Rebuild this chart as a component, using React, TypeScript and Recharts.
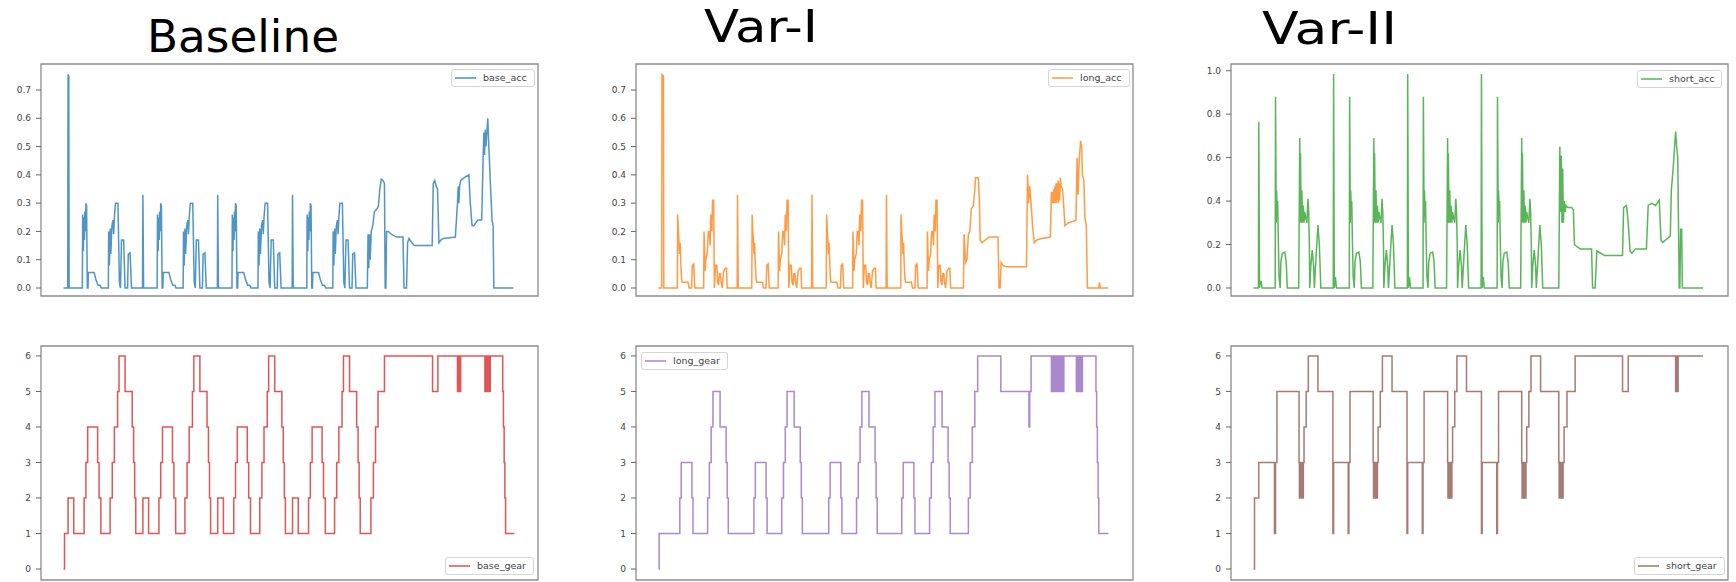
import React from 'react'
import { LineChart, Line, XAxis, YAxis, ReferenceArea, Legend } from 'recharts'

type Pt = [number, number]

// sample index on x (tick labels are hidden in the source figure)
const xTicks = [0, 215, 430, 645, 860, 1075, 1290]
const xDomain: [number, number] = [-63, 1332]
const accTicks = [0, 0.1, 0.2, 0.3, 0.4, 0.5, 0.6, 0.7]
const shortAccTicks = [0, 0.2, 0.4, 0.6, 0.8, 1.0]
const gearTicks = [0, 1, 2, 3, 4, 5, 6]
const titles = ['Baseline', 'Var-I', 'Var-II']

const baseAcc: Pt[] = [
  [0, 0], [12, 0], [13, 0.755], [15, 0.75], [16, 0], [53, 0],
  [54, 0.26], [56, 0.13], [57, 0.25], [59, 0.17], [60, 0.27], [62, 0.2], [63, 0.3], [65, 0.29], [67, 0], [69, 0], [70, 0.055], [86, 0.055], [88, 0.045], [91, 0.03], [94, 0.02], [97, 0.01], [103, 0.01], [106, 0], [126, 0], [127, 0.2], [129, 0.08], [131, 0.21], [133, 0.12], [136, 0.22], [139, 0.24], [141, 0.19], [143, 0.25], [146, 0.3], [153, 0.3], [157, 0.02], [160, 0], [163, 0.17], [169, 0.17], [173, 0], [180, 0], [182, 0.12], [187, 0.125], [191, 0], [222, 0], [223, 0.33], [225, 0],
  [263, 0], [264, 0.26], [266, 0.13], [267, 0.25], [269, 0.17], [270, 0.27], [272, 0.2], [273, 0.3], [275, 0.29], [277, 0], [279, 0], [280, 0.055], [296, 0.055], [298, 0.045], [301, 0.03], [304, 0.02], [307, 0.01], [313, 0.01], [316, 0], [336, 0], [337, 0.2], [339, 0.08], [341, 0.21], [343, 0.12], [346, 0.22], [349, 0.24], [351, 0.19], [353, 0.25], [356, 0.3], [363, 0.3], [367, 0.02], [370, 0], [373, 0.17], [379, 0.17], [383, 0], [390, 0], [392, 0.12], [397, 0.125], [401, 0], [432, 0], [433, 0.33], [435, 0],
  [473, 0], [474, 0.26], [476, 0.13], [477, 0.25], [479, 0.17], [480, 0.27], [482, 0.2], [483, 0.3], [485, 0.29], [487, 0], [489, 0], [490, 0.055], [506, 0.055], [508, 0.045], [511, 0.03], [514, 0.02], [517, 0.01], [523, 0.01], [526, 0], [546, 0], [547, 0.2], [549, 0.08], [551, 0.21], [553, 0.12], [556, 0.22], [559, 0.24], [561, 0.19], [563, 0.25], [566, 0.3], [573, 0.3], [577, 0.02], [580, 0], [583, 0.17], [589, 0.17], [593, 0], [600, 0], [602, 0.12], [607, 0.125], [611, 0], [642, 0], [643, 0.33], [645, 0],
  [683, 0], [684, 0.26], [686, 0.13], [687, 0.25], [689, 0.17], [690, 0.27], [692, 0.2], [693, 0.3], [695, 0.29], [697, 0], [699, 0], [700, 0.055], [716, 0.055], [718, 0.045], [721, 0.03], [724, 0.02], [727, 0.01], [733, 0.01], [736, 0], [756, 0], [757, 0.2], [759, 0.08], [761, 0.21], [763, 0.12], [766, 0.22], [769, 0.24], [771, 0.19], [773, 0.25], [776, 0.3], [783, 0.3], [787, 0.02], [790, 0], [793, 0.17], [799, 0.17], [803, 0], [810, 0], [812, 0.12], [817, 0.125], [821, 0],
  [853, 0], [855, 0.19], [857, 0.07], [859, 0.19], [861, 0.1], [864, 0.2], [868, 0.22], [873, 0.27], [880, 0.28], [884, 0.29], [888, 0.35], [892, 0.385], [897, 0.38], [901, 0.37], [903, 0], [905, 0], [907, 0.2], [912, 0.2], [920, 0.19], [935, 0.18], [953, 0.18], [956, 0], [963, 0], [966, 0.16], [970, 0.175], [978, 0.16], [985, 0.15], [1035, 0.15], [1038, 0.37], [1042, 0.38], [1046, 0.36], [1050, 0.35], [1054, 0.16], [1060, 0.17], [1066, 0.175], [1100, 0.18], [1106, 0.3], [1108, 0.36], [1110, 0.3], [1112, 0.36], [1115, 0.38], [1125, 0.39], [1138, 0.4], [1142, 0.3], [1147, 0.22], [1152, 0.22], [1163, 0.24], [1174, 0.24], [1178, 0.46], [1180, 0.55], [1182, 0.47], [1184, 0.56], [1186, 0.5], [1191, 0.6], [1194, 0.5], [1198, 0.38], [1203, 0.24], [1206, 0.22], [1208, 0], [1263, 0],
]

const longAcc: Pt[] = [
  [0, 0], [9, 0], [10, 0.755], [14, 0.75], [15, 0], [53, 0],
  [54, 0.26], [56, 0.2], [58, 0.16], [59, 0.12], [61, 0.16], [63, 0.08], [65, 0.03], [67, 0.02], [83, 0.02], [86, 0], [93, 0], [95, 0.08], [99, 0.085], [102, 0], [127, 0], [128, 0.2], [131, 0.06], [133, 0.1], [137, 0.12], [140, 0.2], [143, 0.2], [145, 0.15], [147, 0.26], [150, 0.2], [152, 0.31], [155, 0.31], [157, 0], [160, 0.08], [164, 0.08], [166, 0.02], [169, 0.01], [171, 0.05], [174, 0.05], [176, 0.02], [179, 0], [183, 0.06], [188, 0.07], [191, 0.07], [193, 0], [221, 0], [222, 0.33], [224, 0],
  [262, 0], [263, 0.26], [265, 0.2], [267, 0.16], [268, 0.12], [270, 0.16], [272, 0.08], [274, 0.03], [276, 0.02], [292, 0.02], [295, 0], [302, 0], [304, 0.08], [308, 0.085], [311, 0], [336, 0], [337, 0.2], [340, 0.06], [342, 0.1], [346, 0.12], [349, 0.2], [352, 0.2], [354, 0.15], [356, 0.26], [359, 0.2], [361, 0.31], [364, 0.31], [366, 0], [369, 0.08], [373, 0.08], [375, 0.02], [378, 0.01], [380, 0.05], [383, 0.05], [385, 0.02], [388, 0], [392, 0.06], [397, 0.07], [400, 0.07], [402, 0], [430, 0], [431, 0.33], [433, 0],
  [471, 0], [472, 0.26], [474, 0.2], [476, 0.16], [477, 0.12], [479, 0.16], [481, 0.08], [483, 0.03], [485, 0.02], [501, 0.02], [504, 0], [511, 0], [513, 0.08], [517, 0.085], [520, 0], [545, 0], [546, 0.2], [549, 0.06], [551, 0.1], [555, 0.12], [558, 0.2], [561, 0.2], [563, 0.15], [565, 0.26], [568, 0.2], [570, 0.31], [573, 0.31], [575, 0], [578, 0.08], [582, 0.08], [584, 0.02], [587, 0.01], [589, 0.05], [592, 0.05], [594, 0.02], [597, 0], [601, 0.06], [606, 0.07], [609, 0.07], [611, 0], [639, 0], [640, 0.33], [642, 0],
  [680, 0], [681, 0.26], [683, 0.2], [685, 0.16], [686, 0.12], [688, 0.16], [690, 0.08], [692, 0.03], [694, 0.02], [710, 0.02], [713, 0], [720, 0], [722, 0.08], [726, 0.085], [729, 0], [754, 0], [755, 0.2], [758, 0.06], [760, 0.1], [764, 0.12], [767, 0.2], [770, 0.2], [772, 0.15], [774, 0.26], [777, 0.2], [779, 0.31], [782, 0.31], [784, 0], [787, 0.08], [791, 0.08], [793, 0.02], [796, 0.01], [798, 0.05], [801, 0.05], [803, 0.02], [806, 0], [810, 0.06], [815, 0.07], [818, 0.07], [820, 0],
  [856, 0], [858, 0.19], [862, 0.09], [866, 0.1], [870, 0.19], [874, 0.2], [878, 0.28], [884, 0.29], [888, 0.35], [890, 0.39], [898, 0.39], [901, 0.3], [903, 0.17], [908, 0.16], [918, 0.17], [928, 0.18], [953, 0.18], [956, 0], [959, 0], [962, 0.09], [967, 0.08], [975, 0.075], [1033, 0.075], [1036, 0.4], [1039, 0.3], [1042, 0.36], [1046, 0.3], [1050, 0.22], [1055, 0.16], [1062, 0.17], [1075, 0.175], [1100, 0.18], [1103, 0.34], [1105, 0.3], [1107, 0.34], [1108, 0.3], [1110, 0.35], [1111, 0.3], [1113, 0.36], [1114, 0.3], [1116, 0.37], [1117, 0.3], [1119, 0.37], [1120, 0.31], [1122, 0.38], [1123, 0.3], [1125, 0.37], [1126, 0.31], [1128, 0.39], [1130, 0.36], [1134, 0.35], [1137, 0.3], [1141, 0.22], [1150, 0.23], [1172, 0.24], [1175, 0.46], [1178, 0.33], [1181, 0.45], [1185, 0.52], [1188, 0.5], [1190, 0.4], [1194, 0.38], [1197, 0.25], [1201, 0.22], [1204, 0], [1236, 0], [1238, 0.02], [1240, 0], [1263, 0],
]

const shortAcc: Pt[] = [
  [0, 0], [14, 0], [15, 0.765], [17, 0], [20, 0.03], [22, 0.03], [24, 0],
  [61, 0], [62, 0.88], [64, 0.3], [65, 0.45], [67, 0.33], [68, 0.4], [70, 0.2], [72, 0.05], [75, 0], [77, 0.12], [81, 0.16], [88, 0.165], [92, 0.12], [95, 0], [127, 0], [130, 0.69], [131, 0.3], [132, 0.62], [134, 0.3], [136, 0.45], [138, 0.3], [140, 0.38], [142, 0.3], [144, 0.35], [146, 0.33], [150, 0.3], [153, 0.41], [155, 0.35], [157, 0.2], [158, 0], [161, 0.1], [165, 0.175], [169, 0.1], [171, 0], [176, 0.15], [181, 0.29], [185, 0.2], [189, 0], [224, 0], [225, 0.985], [227, 0], [230, 0.05], [233, 0],
  [269, 0], [270, 0.88], [272, 0.3], [273, 0.45], [275, 0.33], [276, 0.4], [278, 0.2], [280, 0.05], [283, 0], [285, 0.12], [289, 0.16], [296, 0.165], [300, 0.12], [303, 0], [335, 0], [338, 0.69], [339, 0.3], [340, 0.62], [342, 0.3], [344, 0.45], [346, 0.3], [348, 0.38], [350, 0.3], [352, 0.35], [354, 0.33], [358, 0.3], [361, 0.41], [363, 0.35], [365, 0.2], [366, 0], [369, 0.1], [373, 0.175], [377, 0.1], [379, 0], [384, 0.15], [389, 0.29], [393, 0.2], [397, 0], [432, 0], [433, 0.985], [435, 0], [438, 0.05], [441, 0],
  [476, 0], [477, 0.88], [479, 0.3], [480, 0.45], [482, 0.33], [483, 0.4], [485, 0.2], [487, 0.05], [490, 0], [492, 0.12], [496, 0.16], [503, 0.165], [507, 0.12], [510, 0], [542, 0], [545, 0.69], [546, 0.3], [547, 0.62], [549, 0.3], [551, 0.45], [553, 0.3], [555, 0.38], [557, 0.3], [559, 0.35], [561, 0.33], [565, 0.3], [568, 0.41], [570, 0.35], [572, 0.2], [573, 0], [576, 0.1], [580, 0.175], [584, 0.1], [586, 0], [591, 0.15], [596, 0.29], [600, 0.2], [604, 0], [639, 0], [640, 0.985], [642, 0], [645, 0.05], [648, 0],
  [684, 0], [685, 0.88], [687, 0.3], [688, 0.45], [690, 0.33], [691, 0.4], [693, 0.2], [695, 0.05], [698, 0], [700, 0.12], [704, 0.16], [711, 0.165], [715, 0.12], [718, 0], [750, 0], [753, 0.69], [754, 0.3], [755, 0.62], [757, 0.3], [759, 0.45], [761, 0.3], [763, 0.38], [765, 0.3], [767, 0.35], [769, 0.33], [773, 0.3], [776, 0.41], [778, 0.35], [780, 0.2], [781, 0], [784, 0.1], [788, 0.175], [792, 0.1], [794, 0], [799, 0.15], [804, 0.29], [808, 0.2], [812, 0],
  [857, 0], [860, 0.65], [862, 0.35], [864, 0.61], [866, 0.3], [868, 0.55], [870, 0.3], [872, 0.4], [875, 0.35], [877, 0.38], [882, 0.37], [893, 0.37], [898, 0.36], [901, 0.2], [908, 0.19], [918, 0.18], [949, 0.18], [952, 0], [959, 0], [964, 0.17], [975, 0.16], [985, 0.15], [1036, 0.15], [1039, 0.37], [1047, 0.38], [1052, 0.3], [1057, 0.17], [1062, 0.16], [1072, 0.18], [1103, 0.18], [1108, 0.38], [1118, 0.39], [1129, 0.38], [1139, 0.405], [1144, 0.22], [1149, 0.21], [1170, 0.24], [1173, 0.45], [1178, 0.55], [1185, 0.72], [1188, 0.65], [1191, 0.6], [1195, 0], [1197, 0], [1199, 0.27], [1202, 0.27], [1204, 0], [1262, 0],
]

const baseGear: Pt[] = [
  [0, 0], [3, 1],
  [13, 2], [29, 1], [58, 2], [63, 3], [68, 4], [96, 3], [100, 2], [105, 1], [131, 2], [137, 3], [143, 4], [152, 5], [156, 6], [173, 5], [193, 4], [197, 3], [200, 2], [203, 1],
  [223, 2], [239, 1], [268, 2], [273, 3], [278, 4], [306, 3], [310, 2], [315, 1], [341, 2], [347, 3], [353, 4], [362, 5], [366, 6], [383, 5], [403, 4], [407, 3], [410, 2], [413, 1],
  [433, 2], [449, 1], [478, 2], [483, 3], [488, 4], [516, 3], [520, 2], [525, 1], [551, 2], [557, 3], [563, 4], [572, 5], [576, 6], [593, 5], [613, 4], [617, 3], [620, 2], [623, 1],
  [643, 2], [659, 1], [688, 2], [693, 3], [698, 4], [726, 3], [730, 2], [735, 1], [761, 2], [767, 3], [773, 4], [782, 5], [786, 6], [803, 5], [823, 4], [827, 3], [830, 2], [833, 1],
  [863, 2], [870, 3], [876, 4], [883, 5], [901, 6], [1036, 5], [1051, 6],
  [1106, 5], [1107, 6], [1108, 5], [1109, 6], [1110, 5], [1111, 6], [1112, 5], [1113, 6], [1114, 5], [1115, 6],
  [1183, 5], [1184, 6], [1185, 5], [1186, 6], [1187, 5], [1188, 6], [1189, 5], [1190, 6], [1191, 5], [1192, 6], [1193, 5], [1194, 6], [1195, 5], [1196, 6], [1197, 5], [1198, 6],
  [1233, 5], [1235, 4], [1237, 3], [1239, 2], [1241, 1], [1266, 1],
]

const longGear: Pt[] = [
  [0, 0], [2, 1],
  [60, 2], [64, 3], [94, 2], [97, 1], [138, 2], [143, 3], [148, 4], [153, 5], [173, 4], [190, 3], [193, 2], [196, 1],
  [268, 2], [272, 3], [302, 2], [305, 1], [346, 2], [351, 3], [356, 4], [361, 5], [381, 4], [398, 3], [401, 2], [404, 1],
  [478, 2], [482, 3], [512, 2], [515, 1], [556, 2], [561, 3], [566, 4], [571, 5], [591, 4], [608, 3], [611, 2], [614, 1],
  [683, 2], [687, 3], [717, 2], [720, 1], [761, 2], [766, 3], [771, 4], [776, 5], [796, 4], [813, 3], [816, 2], [819, 1],
  [870, 2], [875, 3], [881, 4], [888, 5], [896, 6], [961, 5], [1040, 4], [1042, 5], [1046, 6],
  [1103, 5], [1104, 6], [1105, 5], [1106, 6], [1107, 5], [1108, 6], [1109, 5], [1110, 6], [1111, 5], [1112, 6], [1113, 5], [1114, 6], [1115, 5], [1116, 6], [1117, 5], [1118, 6], [1119, 5], [1120, 6], [1121, 5], [1122, 6], [1123, 5], [1124, 6], [1125, 5], [1126, 6], [1127, 5], [1128, 6], [1129, 5], [1130, 6], [1131, 5], [1132, 6], [1133, 5], [1134, 6], [1135, 5], [1136, 6], [1137, 5], [1138, 6],
  [1173, 5], [1174, 6], [1175, 5], [1176, 6], [1177, 5], [1178, 6], [1179, 5], [1180, 6], [1181, 5], [1182, 6], [1183, 5], [1184, 6], [1185, 5], [1186, 6], [1187, 5], [1188, 6], [1189, 5], [1190, 6],
  [1228, 5], [1230, 4], [1232, 3], [1234, 2], [1236, 1], [1263, 1],
]

const shortGear: Pt[] = [
  [0, 0], [3, 2], [15, 3], [59, 1], [62, 3], [66, 5],
  [128, 3], [129, 2], [130, 3], [131, 2], [132, 3], [133, 2], [134, 3], [135, 2], [136, 3], [137, 2], [138, 3], [139, 2], [140, 3], [142, 4], [148, 5], [154, 6], [181, 5], [223, 1], [225, 3], [266, 1], [268, 3], [271, 5],
  [336, 3], [337, 2], [338, 3], [339, 2], [340, 3], [341, 2], [342, 3], [343, 2], [344, 3], [345, 2], [346, 3], [347, 2], [348, 3], [350, 4], [356, 5], [362, 6], [389, 5], [431, 1], [433, 3], [474, 1], [476, 3], [479, 5],
  [545, 3], [546, 2], [547, 3], [548, 2], [549, 3], [550, 2], [551, 3], [552, 2], [553, 3], [554, 2], [555, 3], [556, 2], [557, 3], [559, 4], [565, 5], [571, 6], [598, 5], [640, 1], [642, 3], [683, 1], [685, 3], [688, 5],
  [753, 3], [754, 2], [755, 3], [756, 2], [757, 3], [758, 2], [759, 3], [760, 2], [761, 3], [762, 2], [763, 3], [764, 2], [765, 3], [767, 4], [773, 5], [779, 6], [806, 5],
  [857, 3], [858, 2], [859, 3], [860, 2], [861, 3], [862, 2], [863, 3], [864, 2], [865, 3], [866, 2], [867, 3], [868, 2], [869, 3], [872, 4], [880, 5], [903, 6], [1036, 5], [1052, 6],
  [1185, 5], [1186, 6], [1187, 5], [1188, 6], [1189, 5], [1190, 6], [1191, 5], [1192, 6], [1262, 6],
]

const FONT = '"DejaVu Sans", sans-serif'
const Y_AXIS_W = 41

type PanelProps = {
  left: number
  top: number
  plotW: number
  plotH: number
  data: Pt[]
  name: string
  color: string
  step?: boolean
  yDomain: [number, number]
  yTicks: number[]
  digits: number
  legendX: number
  legendY: number
}

function LegendBox({ name, color }: { name: string; color: string }) {
  return (
    <div style={{
      display: 'flex',
      alignItems: 'center',
      background: 'rgba(255,255,255,0.85)',
      border: '1px solid #d4d4d4',
      borderRadius: 3,
      padding: '2px 7px 2px 3px',
      fontFamily: FONT,
      fontSize: 9.5,
      lineHeight: '12px',
      color: '#444',
      whiteSpace: 'nowrap',
    }}>
      <svg width={21} height={10}>
        <line x1={0} x2={21} y1={5} y2={5} stroke={color} strokeOpacity={0.8} strokeWidth={1.5} />
      </svg>
      <span style={{ marginLeft: 7 }}>{name}</span>
    </div>
  )
}

function Panel(p: PanelProps) {
  const points = p.data.map(([t, v]) => ({ t, v }))
  const margin = { top: 10, right: 10, bottom: 0, left: 0 }
  return (
    <div style={{ position: 'absolute', left: p.left, top: p.top }}>
      <LineChart
        width={p.plotW + Y_AXIS_W + margin.right}
        height={p.plotH + margin.top + 12}
        margin={margin}
      >
        <XAxis
          type="number"
          dataKey="t"
          domain={xDomain}
          ticks={xTicks}
          allowDataOverflow
          tick={false}
          tickSize={4}
          tickLine={{ stroke: '#666' }}
          axisLine={false}
          height={12}
        />
        <YAxis
          type="number"
          domain={p.yDomain}
          ticks={p.yTicks}
          allowDataOverflow
          width={Y_AXIS_W}
          tickSize={5}
          tickMargin={5}
          tickLine={{ stroke: '#666' }}
          axisLine={false}
          tick={{ fontSize: 9, fill: '#444', fontFamily: FONT }}
          tickFormatter={(v: number) => v.toFixed(p.digits)}
        />
        <ReferenceArea
          x1={xDomain[0]}
          x2={xDomain[1]}
          y1={p.yDomain[0]}
          y2={p.yDomain[1]}
          fill="none"
          stroke="#8c8c8c"
          strokeWidth={1.3}
          ifOverflow="visible"
        />
        <Line
          data={points}
          dataKey="v"
          name={p.name}
          type={p.step ? 'stepAfter' : 'linear'}
          stroke={p.color}
          strokeWidth={1.5}
          strokeOpacity={0.78}
          dot={false}
          activeDot={false}
          isAnimationActive={false}
        />
        <Legend
          layout="horizontal"
          verticalAlign="middle"
          align="center"
          wrapperStyle={{ left: p.legendX, top: p.legendY, width: 'auto' }}
          content={() => <LegendBox name={p.name} color={p.color} />}
        />
      </LineChart>
    </div>
  )
}

const accDomain: [number, number] = [-0.0283, 0.7919]
const shortDomain: [number, number] = [-0.0368, 1.0308]
const gearDomain: [number, number] = [-0.31, 6.28]

export default function App() {
  return (
    <div style={{
      position: 'absolute',
      left: 0,
      top: 0,
      width: 1736,
      height: 582,
      overflow: 'hidden',
      background: '#fff',
    }}>
      <svg width={1736} height={80} style={{ position: 'absolute', left: 0, top: 0 }}>
        <text x={147} y={52} fontSize={45} fontFamily={FONT} textLength={192} lengthAdjust="spacingAndGlyphs">{titles[0]}</text>
        <text x={704} y={42} fontSize={45} fontFamily={FONT} textLength={114} lengthAdjust="spacingAndGlyphs">{titles[1]}</text>
        <text x={1262} y={44} fontSize={45} fontFamily={FONT} textLength={135} lengthAdjust="spacingAndGlyphs">{titles[2]}</text>
      </svg>

      <Panel left={0} top={54} plotW={497} plotH={232} data={baseAcc} name="base_acc" color="#1f77b4"
        yDomain={accDomain} yTicks={accTicks} digits={1} legendX={451} legendY={15} />
      <Panel left={595} top={54} plotW={497} plotH={232} data={longAcc} name="long_acc" color="#ff7f0e"
        yDomain={accDomain} yTicks={accTicks} digits={1} legendX={453} legendY={15} />
      <Panel left={1190} top={54} plotW={497} plotH={232} data={shortAcc} name="short_acc" color="#2ca02c"
        yDomain={shortDomain} yTicks={shortAccTicks} digits={1} legendX={447} legendY={16} />

      <Panel left={0} top={336} plotW={497} plotH={234} data={baseGear} name="base_gear" color="#d62728" step
        yDomain={gearDomain} yTicks={gearTicks} digits={0} legendX={445} legendY={221} />
      <Panel left={595} top={336} plotW={497} plotH={234} data={longGear} name="long_gear" color="#9467bd" step
        yDomain={gearDomain} yTicks={gearTicks} digits={0} legendX={46} legendY={16} />
      <Panel left={1190} top={336} plotW={497} plotH={234} data={shortGear} name="short_gear" color="#8c564b" step
        yDomain={gearDomain} yTicks={gearTicks} digits={0} legendX={444} legendY={221} />
    </div>
  )
}
